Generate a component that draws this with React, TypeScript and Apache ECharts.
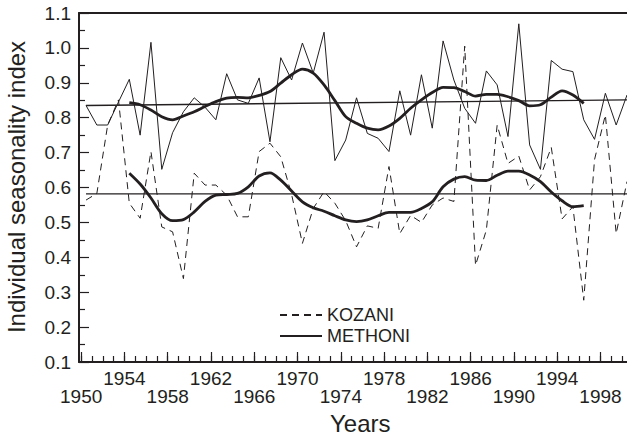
import React, { useEffect, useRef } from 'react';
import * as echarts from 'echarts';

const years = [
  1950, 1951, 1952, 1953, 1954, 1955, 1956, 1957, 1958, 1959,
  1960, 1961, 1962, 1963, 1964, 1965, 1966, 1967, 1968, 1969,
  1970, 1971, 1972, 1973, 1974, 1975, 1976, 1977, 1978, 1979,
  1980, 1981, 1982, 1983, 1984, 1985, 1986, 1987, 1988, 1989,
  1990, 1991, 1992, 1993, 1994, 1995, 1996, 1997, 1998, 1999, 2000,
];

const kozani = [
  0.564, 0.583, 0.779, 0.851, 0.555, 0.512, 0.703, 0.487, 0.473, 0.339,
  0.641, 0.607, 0.607, 0.578, 0.516, 0.516, 0.703, 0.727, 0.688, 0.58,
  0.44, 0.54, 0.588, 0.555, 0.505, 0.43, 0.49, 0.483, 0.66, 0.468,
  0.52, 0.5, 0.55, 0.57, 0.56, 1.005, 0.377, 0.478, 0.779, 0.669,
  0.69, 0.593, 0.631, 0.715, 0.51, 0.545, 0.277, 0.68, 0.808, 0.468, 0.617,
];

const methoni = [
  0.835, 0.779, 0.779, 0.845, 0.91, 0.75, 1.016, 0.652, 0.757, 0.817,
  0.857, 0.83, 0.794, 0.926, 0.851, 0.841, 0.914, 0.731, 0.972, 0.908,
  1.014, 0.928, 1.045, 0.677, 0.736, 0.857, 0.755, 0.741, 0.703, 0.877,
  0.75, 0.923, 0.77, 1.02, 0.908, 0.827, 0.784, 0.934, 0.894, 0.746,
  1.069, 0.722, 0.652, 0.964, 0.939, 0.932, 0.794, 0.738, 0.87, 0.779, 0.865,
];

const smoothYears = [
  1954, 1955, 1956, 1957, 1958, 1959, 1960, 1961, 1962, 1963,
  1964, 1965, 1966, 1967, 1968, 1969, 1970, 1971, 1972, 1973,
  1974, 1975, 1976, 1977, 1978, 1979, 1980, 1981, 1982, 1983,
  1984, 1985, 1986, 1987, 1988, 1989, 1990, 1991, 1992, 1993,
  1994, 1995, 1996,
];

const kozaniSmooth = [
  0.641, 0.61, 0.57, 0.525, 0.505, 0.508, 0.53, 0.56, 0.578, 0.58,
  0.583, 0.602, 0.633, 0.642, 0.621, 0.59, 0.559, 0.542, 0.532, 0.519,
  0.507, 0.502, 0.507, 0.519, 0.529, 0.529, 0.529, 0.54, 0.559, 0.602,
  0.624, 0.631, 0.621, 0.62, 0.635, 0.647, 0.647, 0.636, 0.617, 0.587,
  0.562, 0.545, 0.548,
];

const methoniSmooth = [
  0.843, 0.837, 0.822, 0.803, 0.794, 0.805, 0.817, 0.832, 0.846, 0.856,
  0.858, 0.857, 0.864, 0.875, 0.899, 0.923, 0.939, 0.928, 0.894, 0.849,
  0.803, 0.784, 0.77, 0.765, 0.776, 0.798, 0.827, 0.851, 0.872, 0.887,
  0.886, 0.875, 0.862, 0.867, 0.867, 0.86, 0.849, 0.834, 0.837, 0.859,
  0.877, 0.865, 0.841,
];

const trendYears = [1950, 2000];
const kozaniTrend = [0.582, 0.582];
const methoniTrend = [0.835, 0.851];

const topRowLabels = [1954, 1962, 1970, 1978, 1986, 1994];
const bottomRowLabels = [1950, 1958, 1966, 1974, 1982, 1990, 1998];
const majorTickYears = [1950, 1954, 1958, 1962, 1966, 1970, 1974, 1978, 1982, 1986, 1990, 1994, 1998];

// The printed axis is registered slightly left of the plotted points.
const tickShift = 0.45;

const ink = '#231f20';
const font = '"Liberation Sans", Arial, Helvetica, sans-serif';

const pairs = (xs: number[], ys: number[]) => xs.map((x, i) => [x, ys[i]]);

export default function App() {
  const ref = useRef<HTMLDivElement>(null);

  useEffect(() => {
    if (!ref.current) return;
    const chart = echarts.init(ref.current, undefined, { renderer: 'svg' });
    const xMin = 1949.35;
    const xMax = 2000;
    const baseX = {
      type: 'value',
      min: xMin,
      max: xMax,
      position: 'bottom',
      splitLine: { show: false },
    };
    const option: any = {
      animation: false,
      backgroundColor: '#ffffff',
      textStyle: { fontFamily: font },
      grid: {
        left: 79,
        right: 0,
        top: 13,
        bottom: 75,
        containLabel: false,
        outerBoundsMode: 'none',
      },
      legend: {
        data: ['KOZANI', 'METHONI'],
        orient: 'vertical',
        left: 274,
        top: 301,
        itemWidth: 42,
        itemHeight: 10,
        itemGap: 3,
        itemStyle: { opacity: 0 },
        textStyle: { fontSize: 18, color: ink, fontFamily: font, lineHeight: 18 },
      },
      xAxis: [
        {
          ...baseX,
          axisLine: { show: true, onZero: false, lineStyle: { color: ink, width: 2 } },
          axisTick: {
            show: true,
            inside: true,
            length: 6,
            customValues: years.map((y) => y - tickShift),
            lineStyle: { color: ink, width: 1.2 },
          },
          axisLabel: {
            show: true,
            customValues: topRowLabels.map((y) => y - tickShift),
            formatter: (v: number) => String(Math.round(v + tickShift)),
            fontSize: 19,
            color: ink,
            fontFamily: font,
            margin: 7,
          },
        },
        {
          ...baseX,
          axisLine: { show: false, onZero: false },
          axisTick: {
            show: true,
            inside: true,
            length: 10,
            customValues: majorTickYears.map((y) => y - tickShift),
            lineStyle: { color: ink, width: 1.2 },
          },
          axisLabel: {
            show: true,
            customValues: bottomRowLabels.map((y) => y - tickShift),
            formatter: (v: number) => String(Math.round(v + tickShift)),
            fontSize: 19,
            color: ink,
            fontFamily: font,
            margin: 25,
          },
        },
        {
          ...baseX,
          position: 'top',
          axisLine: { show: true, onZero: false, lineStyle: { color: ink, width: 2 } },
          axisTick: { show: false },
          axisLabel: { show: false },
        },
      ],
      yAxis: {
        type: 'value',
        min: 0.1,
        max: 1.1,
        interval: 0.1,
        axisLine: { show: true, onZero: false, lineStyle: { color: ink, width: 2 } },
        axisTick: { show: true, inside: true, length: 10, lineStyle: { color: ink, width: 1.2 } },
        minorTick: { show: true, splitNumber: 2, length: 6, lineStyle: { color: ink, width: 1.2 } },
        axisLabel: {
          formatter: (v: number) => v.toFixed(1),
          fontSize: 19,
          color: ink,
          fontFamily: font,
          margin: 8,
        },
        splitLine: { show: false },
      },
      graphic: [
        {
          type: 'text',
          left: 330,
          top: 411,
          style: { text: 'Years', fontSize: 24, fill: ink, fontFamily: font },
        },
        {
          type: 'text',
          x: 16,
          y: 187,
          rotation: Math.PI / 2,
          style: {
            text: 'Individual seasonality index',
            fontSize: 24,
            fill: ink,
            fontFamily: font,
            align: 'center',
            verticalAlign: 'middle',
          },
        },
      ],
      series: [
        {
          name: 'KOZANI',
          type: 'line',
          data: pairs(years, kozani),
          symbol: 'none',
          lineStyle: { color: ink, width: 1, type: [7, 5] },
          itemStyle: { color: ink },
          z: 2,
        },
        {
          name: 'METHONI',
          type: 'line',
          data: pairs(years, methoni),
          symbol: 'none',
          lineStyle: { color: ink, width: 1 },
          itemStyle: { color: ink },
          z: 2,
        },
        {
          name: 'KOZANI trend',
          type: 'line',
          data: pairs(trendYears, kozaniTrend),
          symbol: 'none',
          lineStyle: { color: ink, width: 1.3 },
          z: 3,
        },
        {
          name: 'METHONI trend',
          type: 'line',
          data: pairs(trendYears, methoniTrend),
          symbol: 'none',
          lineStyle: { color: ink, width: 1.3 },
          z: 3,
        },
        {
          name: 'KOZANI moving average',
          type: 'line',
          data: pairs(smoothYears, kozaniSmooth),
          symbol: 'none',
          smooth: 0.3,
          lineStyle: { color: ink, width: 2.8 },
          z: 4,
        },
        {
          name: 'METHONI moving average',
          type: 'line',
          data: pairs(smoothYears, methoniSmooth),
          symbol: 'none',
          smooth: 0.3,
          lineStyle: { color: ink, width: 2.8 },
          z: 4,
        },
      ],
    };
    chart.setOption(option);
    return () => chart.dispose();
  }, []);

  return (
    <div
      ref={ref}
      style={{ position: 'fixed', left: 0, top: 0, width: 627, height: 437, background: '#fff' }}
    />
  );
}
